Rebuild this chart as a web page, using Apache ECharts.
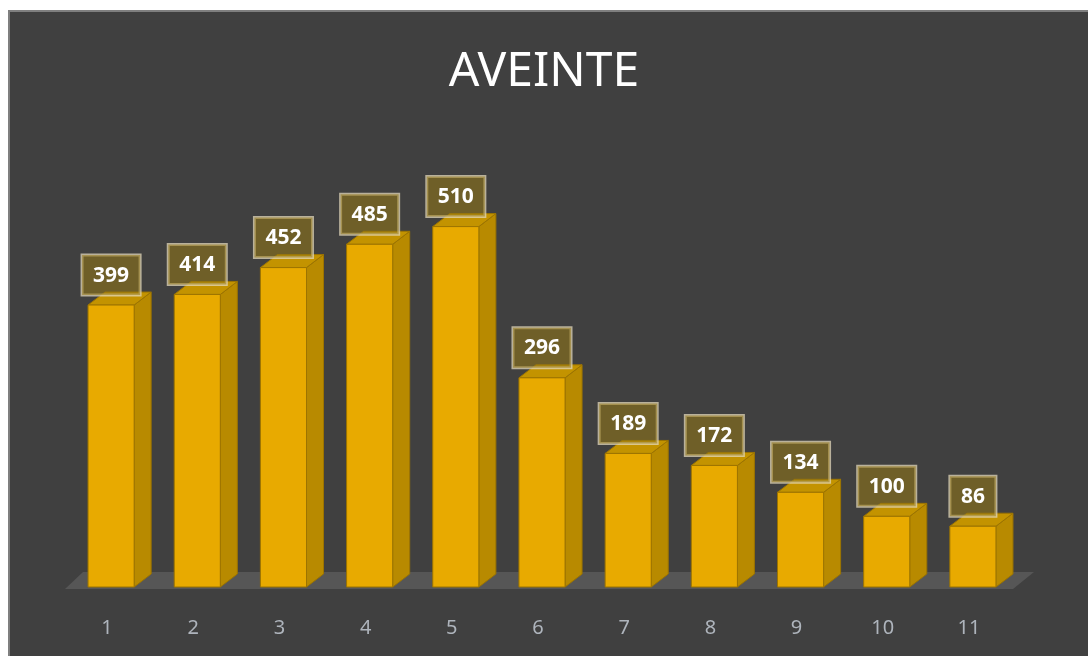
<!DOCTYPE html>
<html>
<head>
<meta charset="utf-8">
<script src="https://cdn.jsdelivr.net/npm/echarts@6/dist/echarts.min.js"></script>
<style>
  html, body { margin: 0; padding: 0; background: #fff; }
  #frame { position: absolute; left: 8px; top: 10px; width: 1080px; height: 646px;
           background: #404040; border-left: 2px solid #7f7f7f; border-top: 2px solid #7f7f7f; box-sizing: border-box; }
  #main { position: absolute; left: 0; top: 0; width: 1088px; height: 656px; }
</style>
</head>
<body>
<div id="frame"></div>
<div id="main"></div>
<script>
// 数据
var categories = ['1', '2', '3', '4', '5', '6', '7', '8', '9', '10', '11'];
var values = [399, 414, 452, 485, 510, 296, 189, 172, 134, 100, 86];

var DX = 17, DY = -13; // 立体柱的深度

var chart = echarts.init(document.getElementById('main'));

var option = {
  backgroundColor: 'transparent',
  animation: false,
  title: {
    text: 'AVEINTE',
    left: 'center',
    top: 43,
    textStyle: {
      color: '#ffffff',
      fontFamily: 'Noto Sans',
      fontWeight: 'normal',
      fontSize: 48
    }
  },
  grid: {
    left: 68,
    right: 72,
    top: 163,
    bottom: 69
  },
  xAxis: {
    type: 'category',
    data: categories,
    axisLine: { show: false },
    axisTick: { show: false },
    axisLabel: {
      color: '#aeb4bc',
      fontFamily: 'Noto Sans',
      fontSize: 20,
      margin: 31,
      padding: [0, 8, 0, 0]
    }
  },
  yAxis: {
    type: 'value',
    min: 0,
    max: 600,
    show: false
  },
  series: [
    {
      // 底面
      type: 'custom',
      data: [0],
      z: 1,
      silent: true,
      renderItem: function (params, api) {
        var cs = params.coordSys;
        var y0 = cs.y + cs.height;
        return {
          type: 'polygon',
          shape: {
            points: [
              [cs.x - 3, y0 + 2],
              [cs.x + cs.width - 3, y0 + 2],
              [cs.x + cs.width + 18, y0 - 15],
              [cs.x + 15, y0 - 15]
            ]
          },
          style: { fill: '#565656' }
        };
      }
    },
    {
      // 立体柱
      type: 'custom',
      data: values.map(function (v, i) { return [i, v]; }),
      z: 2,
      renderItem: function (params, api) {
        var top = api.coord([api.value(0), api.value(1)]);
        var bottom = api.coord([api.value(0), 0]);
        var bw = api.size([1, 0])[0] * 0.535;
        var x0 = top[0] - bw / 2;
        var x1 = x0 + bw;
        var stroke = '#9c7400';
        return {
          type: 'group',
          children: [
            {
              type: 'polygon',
              shape: { points: [[x1, top[1]], [x1 + DX, top[1] + DY], [x1 + DX, bottom[1] + DY], [x1, bottom[1]]] },
              style: { fill: '#b88a00', stroke: stroke, lineWidth: 1 }
            },
            {
              type: 'polygon',
              shape: { points: [[x0, top[1]], [x0 + DX, top[1] + DY], [x1 + DX, top[1] + DY], [x1, top[1]]] },
              style: { fill: '#c39300', stroke: stroke, lineWidth: 1 }
            },
            {
              type: 'rect',
              shape: { x: x0, y: top[1], width: bw, height: bottom[1] - top[1] },
              style: { fill: '#e8aa00', stroke: stroke, lineWidth: 1 }
            },
            {
              type: 'text',
              x: top[0],
              y: top[1] - 10,
              z2: 10,
              style: {
                text: String(api.value(1)),
                fill: '#ffffff',
                fontFamily: 'Noto Sans',
                fontWeight: 'bold',
                fontSize: 21,
                align: 'center',
                verticalAlign: 'bottom',
                backgroundColor: 'rgba(150,120,20,0.55)',
                borderColor: 'rgba(225,215,185,0.75)',
                borderWidth: 1.5,
                padding: [10, 11, 9, 11]
              }
            }
          ]
        };
      }
    }
  ]
};

chart.setOption(option);
</script>
</body>
</html>
